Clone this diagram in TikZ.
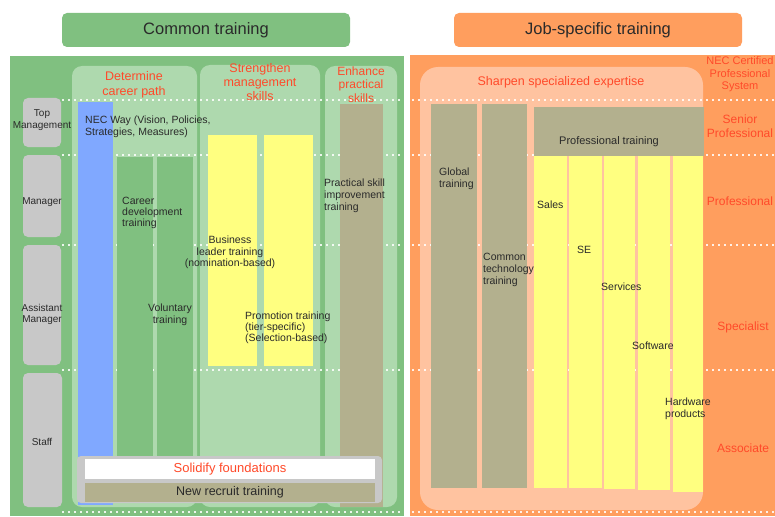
\documentclass[tikz,border=0pt]{standalone}
\usepackage{fontspec}
\setmainfont{Liberation Sans}
\definecolor{gout}{HTML}{80C080}
\definecolor{glight}{HTML}{AED9AE}
\definecolor{oout}{HTML}{FF9E5E}
\definecolor{opeach}{HTML}{FFC3A0}
\definecolor{bluebar}{HTML}{80A8FF}
\definecolor{yelfill}{HTML}{FFFF80}
\definecolor{tanbar}{HTML}{B3B08E}
\definecolor{lgray}{HTML}{C8C8C8}
\definecolor{redtxt}{HTML}{FF4A2A}
\definecolor{txt}{HTML}{2A2A2A}
\tikzset{
  small/.style={font=\fontsize{10.5}{12}\selectfont, text=txt, inner sep=0pt, align=left},
  smallc/.style={small, align=center},
  redlbl/.style={font=\fontsize{12}{14}\selectfont, text=redtxt, inner sep=0pt, align=center},
  headtxt/.style={font=\fontsize{16.5}{18}\selectfont, text=txt, inner sep=0pt},
  dotline/.style={draw=white, line width=1.6pt, dash pattern=on 1.6pt off 4.4pt, opacity=.85},
  panel/.style={fill=glight, rounded corners=10pt},
  rowbox/.style={fill=lgray, rounded corners=5pt},
}
\begin{document}
\begin{tikzpicture}[x=1pt,y=-1pt]
\useasboundingbox (0,0) rectangle (775,516);
\fill[white] (0,0) rectangle (775,516);
% headers
\fill[gout, rounded corners=5pt] (62,13) rectangle (350,47);
\node[headtxt] (hcommon) at (206,30) {Common training};
\fill[oout, rounded corners=5pt] (454,13) rectangle (742,47);
\node[headtxt] (hjob) at (598,30) {Job-specific training};
% outer panels
\fill[gout] (10,56) rectangle (404,516);
\fill[oout] (410,55) rectangle (775,516);
% column panels
\fill[panel] (72,66) rectangle (197,507);
\fill[panel] (200,65) rectangle (320,507);
\fill[panel] (325,66) rectangle (397,507);
\fill[opeach, rounded corners=18pt] (420,67) rectangle (703,510);
% row boxes
\fill[rowbox] (23,98) rectangle (61,147);
\fill[rowbox] (23,155) rectangle (61,237);
\fill[rowbox] (23,245) rectangle (61,365);
\fill[rowbox] (23,373) rectangle (62,507);
% dotted lines
\foreach \yy in {100,155,245,370,512}{
  \draw[dotline] (62,\yy) -- (404,\yy);
  \draw[dotline] (412,\yy) -- (775,\yy);
}
% left bars
\fill[bluebar] (78,102) rectangle (113,505);
\fill[gout] (117,157) rectangle (153,470);
\fill[gout] (157,157) rectangle (193,470);
\fill[yelfill] (208,135) rectangle (257,366);
\fill[yelfill] (264,135) rectangle (313,366);
\fill[tanbar] (340,104) rectangle (383,507);
% foundations
\fill[lgray, rounded corners=4pt] (77,456) rectangle (382,503);
\fill[white] (85,459) rectangle (375,479);
\fill[tanbar] (85,483) rectangle (375,502);
% right bars
\fill[tanbar] (431,104) rectangle (477,488);
\fill[tanbar] (482,104) rectangle (527,488);
\fill[tanbar] (534,107) rectangle (704,156);
\fill[yelfill] (534,156) rectangle (567,488);
\fill[yelfill] (569,156) rectangle (602,488);
\fill[yelfill] (604,156) rectangle (635,489);
\fill[yelfill] (638,156) rectangle (670,490);
\fill[yelfill] (673,156) rectangle (703,492);
% red headings
\node[redlbl, font=\fontsize{12.5}{15}\selectfont] (hcareer) at (134,84.5) {Determine\\career path};
\node[redlbl, font=\fontsize{12.5}{14}\selectfont] (hmgmt) at (260,82) {Strengthen\\management\\skills};
\node[redlbl, font=\fontsize{12}{13.5}\selectfont] (hpract) at (361,84.5) {Enhance\\practical\\skills};
\node[redlbl, font=\fontsize{12.5}{14}\selectfont] (hsharpen) at (561,82) {Sharpen specialized expertise};
\node[redlbl, font=\fontsize{11}{12.5}\selectfont] (hnec) at (740,74.5) {NEC Certified\\Professional\\System};
\node[redlbl] (rsenior) at (740,126) {Senior\\Professional};
\node[redlbl] (rprof) at (740,201) {Professional};
\node[redlbl] (rspec) at (743,327) {Specialist};
\node[redlbl] (rassoc) at (743,448) {Associate};
% row labels
\node[smallc, font=\fontsize{10}{12}\selectfont] (ltop) at (42,120) {Top\\Management};
\node[smallc, font=\fontsize{10}{12}\selectfont] (lmgr) at (42,202) {Manager};
\node[smallc, font=\fontsize{10}{11.5}\selectfont] (lasst) at (42,314.5) {Assistant\\Manager};
\node[smallc, font=\fontsize{10}{12}\selectfont] (lstaff) at (42,442) {Staff};
% left texts
\node[small, anchor=west] (tnec) at (85,127) {NEC Way (Vision, Policies,\\Strategies, Measures)};
\node[small, anchor=west, font=\fontsize{10.5}{11}\selectfont] (tcareer) at (122,212.5) {Career\\development\\training};
\node[smallc] (tvol) at (170,315) {Voluntary\\training};
\node[smallc, font=\fontsize{10.5}{11.5}\selectfont] (tbiz) at (230,252.5) {Business\\leader training\\(nomination-based)};
\node[small, anchor=west, font=\fontsize{10.5}{11}\selectfont] (tpromo) at (245,328) {Promotion training\\(tier-specific)\\(Selection-based)};
\node[small, anchor=west] (tpract) at (324,195.5) {Practical skill\\improvement\\training};
\node[redlbl, font=\fontsize{13}{14}\selectfont] (tsolid) at (230,469) {Solidify foundations};
\node[headtxt, font=\fontsize{12.5}{14}\selectfont] (tnew) at (230,492) {New recruit training};
% right texts
\node[small, anchor=west] (tglobal) at (439,179) {Global\\training};
\node[small, anchor=west] (tcommon) at (483,270) {Common\\technology\\training};
\node[small, font=\fontsize{11}{12}\selectfont] (tprof) at (609,142) {Professional training};
\node[small, anchor=west] (tsales) at (537,205) {Sales};
\node[small, anchor=west] (tse) at (577,250) {SE};
\node[small, anchor=west] (tserv) at (601,287) {Services};
\node[small, anchor=west] (tsoft) at (632,346) {Software};
\node[small, anchor=west] (thard) at (665,408.5) {Hardware\\products};
\end{tikzpicture}
\end{document}
